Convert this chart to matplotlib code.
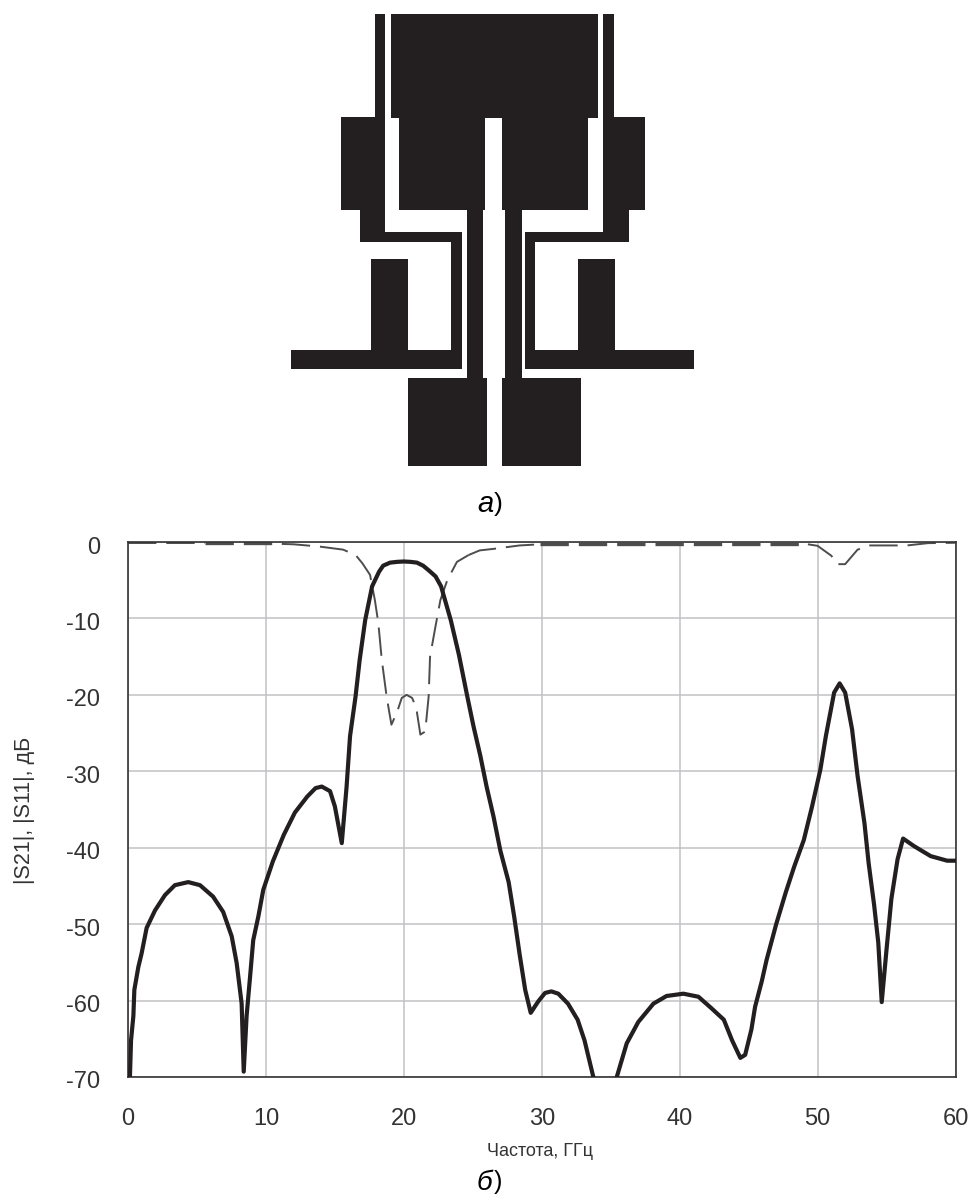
import matplotlib
matplotlib.use("Agg")
import matplotlib.pyplot as plt
from matplotlib.patches import Rectangle
from matplotlib.transforms import ScaledTranslation

plt.rcParams['font.family'] = ['Liberation Sans', 'DejaVu Sans']
plt.rcParams['axes.unicode_minus'] = False

# Microstrip layout rectangles, in reference-image pixels: (x0, y0, x1, y1)
layout_rects = [
    (391, 14, 598, 118), (399, 118, 485, 210), (502, 118, 588, 210),
    (375, 14, 385, 117), (341, 117, 385, 210), (360, 210, 385, 238), (360, 232, 462, 242),
    (451, 232, 462, 369), (291, 350, 462, 369), (371, 259, 408, 369),
    (603, 14, 614, 117), (603, 117, 645, 210), (603, 210, 629, 238), (525, 232, 629, 242),
    (525, 232, 535, 369), (525, 350, 694, 369), (578, 259, 615, 369),
    (467, 210, 483, 378), (505, 210, 522, 378),
    (408, 378, 487, 466), (502, 378, 581, 466),
]

s21_freq = [0.14, 0.22, 0.39, 0.46, 0.75, 0.99, 1.35, 1.96, 2.68, 3.4, 4.37, 5.22, 6.17, 6.9, 7.52, 7.88, 8.24, 8.39,
            8.6, 8.85, 9.08, 9.45, 9.81, 10.5,
            11.3, 12.1, 13, 13.6, 14.05, 14.65, 15, 15.5, 15.85, 16.1, 16.5, 16.8, 17.2, 17.7, 18.2, 18.5,
            19, 19.5, 20, 20.5, 20.95, 21.4, 21.8, 22.3, 22.7, 23.4, 24, 24.6, 25.05, 25.55, 26, 26.5, 27, 27.6, 28, 28.4,
            28.8, 29.2, 29.75, 30.24, 30.7, 31.2, 31.9, 32.6, 33.1, 33.74, 34.5, 35.44, 36.16, 37, 38.1, 39.05, 40.27, 41.36,
            42.3, 43.2, 43.8, 44.4, 44.75, 45.2, 45.47, 45.95, 46.3, 47, 47.7, 48.3, 49, 49.6, 50.2, 50.6, 51.2, 51.6,
            52, 52.5, 52.9, 53.4, 53.7, 54.1, 54.4, 54.65, 55, 55.35, 55.8, 56.2, 57, 58.2, 59.4, 60]
s21_db = [-70, -65.2, -62, -58.6, -55.6, -53.8, -50.5, -48.2, -46.2, -44.9, -44.5, -44.9, -46.4, -48.4, -51.6, -55.1, -60.4, -69.3,
          -62, -56.9, -52.1, -49, -45.5, -41.8,
          -38.3, -35.4, -33.3, -32.2, -32, -32.6, -34.6, -39.4, -32, -25.4, -20.2, -15.4, -10.2, -5.8, -3.9, -3.1,
          -2.7, -2.6, -2.55, -2.6, -2.7, -3.1, -3.7, -4.5, -5.8, -10.2, -14.8, -20.2, -24.1, -28, -32, -35.9, -40.4, -44.5, -49, -54,
          -58.6, -61.6, -60.1, -59, -58.8, -59.1, -60.4, -62.5, -65.2, -70, -76, -70, -65.6, -62.8, -60.4, -59.4, -59.1, -59.5,
          -61, -62.5, -65.2, -67.5, -67.1, -63.8, -60.8, -57.5, -54.7, -50, -45.8, -42.5, -39, -34.6, -29.8, -25.4, -19.7, -18.5,
          -19.7, -24.5, -30.6, -36.8, -42, -47.5, -52.4, -60.2, -53.3, -46.7, -41.5, -38.8, -39.8, -41.1, -41.7, -41.7]

# |S11| pieces: near 0 dB the trace hugs the frame and looks heavier
s11_a_freq = [0, 5.6]
s11_a_db = [-0.1, -0.1]
s11_b_freq = [5.6, 11.15]
s11_b_db = [-0.15, -0.15]
s11_c_freq = [11.15, 12, 13.9, 15.6, 16.5, 17, 17.55, 17.9, 18.15, 18.4, 18.75, 19.1, 19.5, 19.85, 20.2, 20.6, 20.9,
              21.2, 21.55, 21.8, 21.9, 22.3, 22.65, 23.15, 23.85, 24.7]
s11_c_db = [-0.25, -0.3, -0.6, -1, -1.7, -2.8, -4.3, -7.6, -10.6, -15.4, -20.2, -23.9, -22.3, -20.4, -20, -20.4, -21.7,
            -25.2, -24.8, -20.2, -15, -11, -7.6, -5, -2.6, -1.7]
s11_d_freq = [24.7, 25.5, 26.5, 28.4, 29.9]
s11_d_db = [-1.7, -1.1, -0.9, -0.45, -0.3]
s11_e_freq = [29.9, 48.9]
s11_e_db = [-0.2, -0.2]
s11_f_freq = [49.3, 50, 51, 51.4, 52, 52.9, 53.8, 55.5, 56.5, 58, 60]
s11_f_db = [-0.3, -0.5, -1.8, -2.9, -2.9, -1, -0.45, -0.45, -0.45, -0.15, -0.1]

x_ticks = [0, 10, 20, 30, 40, 50, 60]
y_ticks = [0, -10, -20, -30, -40, -50, -60, -70]
x_labels = ['0', '10', '20', '30', '40', '50', '60']
y_labels = ['0', '-10', '-20', '-30', '-40', '-50', '-60', '-70']

W, H = 971, 1198
dark = '#231f20'
fig = plt.figure(figsize=(W / 100, H / 100), dpi=100, facecolor='white')

# Layout drawing (panel a)
ax0 = fig.add_axes([0, 0, 1, 1], zorder=0)
ax0.set_xlim(0, W)
ax0.set_ylim(H, 0)
ax0.axis('off')
for x0, y0, x1, y1 in layout_rects:
    ax0.add_patch(Rectangle((x0, y0), x1 - x0, y1 - y0, fc=dark, ec='none'))
ax0.text(477, 512, 'а', fontsize=21, style='italic', ha='left', va='baseline', color='black')
ax0.text(494, 511, ')', fontsize=19, ha='left', va='baseline', color='black')
ax0.text(477, 1190, 'б', fontsize=20, style='italic', ha='left', va='baseline', color='black')
ax0.text(494, 1189, ')', fontsize=18, ha='left', va='baseline', color='black')

# Frequency response (panel b)
ax = fig.add_axes([128 / W, 1 - 1077 / H, 827.5 / W, 535 / H], zorder=1)
ax.patch.set_alpha(0)
ax.set_xlim(0, 60)
ax.set_ylim(-70, 0)
ax.set_xticks(x_ticks, x_labels)
ax.set_yticks(y_ticks, y_labels)
ax.grid(True, color='#c2c2c6', lw=1.1)
ax.set_axisbelow(True)
ax.tick_params(length=0, labelsize=17, labelcolor='#333333')
ax.tick_params(axis='x', pad=22)
ax.tick_params(axis='y', pad=20)
off = ScaledTranslation(0, -3 / 100, fig.dpi_scale_trans)
for lab in ax.get_yticklabels():
    lab.set_transform(lab.get_transform() + off)
for s in ax.spines.values():
    s.set_color('#333333')
    s.set_linewidth(1.2)

thin = dict(color='#4d4d4d', lw=1.4, dashes=(14.6, 5.1), zorder=2)
thick = dict(color='#4d4d4d', lw=2.4, dashes=(8.5, 3), zorder=2)
ax.plot(s11_a_freq, s11_a_db, **thin)
ax.plot(s11_b_freq, s11_b_db, **thick)
ax.plot(s11_c_freq, s11_c_db, **thin)
ax.plot(s11_d_freq, s11_d_db, **thin)
ax.plot(s11_e_freq, s11_e_db, **thick)
ax.plot(s11_f_freq, s11_f_db, **thin)
ax.plot(s21_freq, s21_db, color=dark, lw=3.0, zorder=3, solid_joinstyle='round')

ax0.text(540, 1152, 'Частота, ГГц', fontsize=13, ha='center', va='center', color='#333333')
ax0.text(25, 810, '|S21|, |S11|, дБ', fontsize=15.5, rotation=90, ha='center', va='center', color='#333333')

fig.savefig('out.png', dpi=100)
